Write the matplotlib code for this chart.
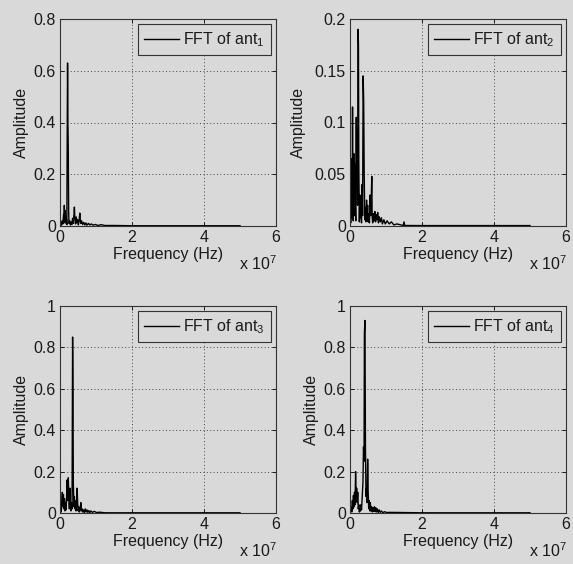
import numpy as np
import matplotlib
matplotlib.use("Agg")
import matplotlib.pyplot as plt
from matplotlib.ticker import FormatStrFormatter, MultipleLocator

# FFT amplitude spectra, (frequency in MHz, amplitude)
ant1 = [(0.0, 0.004), (0.2, 0.012), (0.4, 0.003), (0.6, 0.02), (0.8, 0.008),
        (1.0, 0.045), (1.1, 0.012), (1.2, 0.08), (1.3, 0.03), (1.4, 0.06),
        (1.5, 0.015), (1.6, 0.04), (1.7, 0.01), (1.8, 0.025), (1.9, 0.005),
        (2.0, 0.34), (2.1, 0.63), (2.2, 0.40), (2.3, 0.30), (2.4, 0.06),
        (2.5, 0.01), (2.7, 0.02), (2.9, 0.004), (3.1, 0.015), (3.3, 0.006),
        (3.5, 0.03), (3.7, 0.01), (3.9, 0.05), (4.0, 0.073), (4.1, 0.04),
        (4.3, 0.008), (4.5, 0.035), (4.7, 0.012), (4.9, 0.025), (5.1, 0.004),
        (5.3, 0.018), (5.5, 0.05), (5.6, 0.03), (5.8, 0.01), (6.0, 0.02),
        (6.3, 0.006), (6.6, 0.014), (6.9, 0.004), (7.2, 0.012), (7.5, 0.003),
        (7.9, 0.01), (8.3, 0.004), (8.7, 0.008), (9.2, 0.003), (9.8, 0.006),
        (10.5, 0.002), (11.4, 0.005), (12.5, 0.002), (15, 0.002), (20, 0.001),
        (30, 0.001), (40, 0.001), (50, 0.001)]

ant2 = [(0.0, 0.002), (0.1, 0.012), (0.2, 0.003), (0.3, 0.03), (0.4, 0.008),
        (0.5, 0.065), (0.6, 0.02), (0.7, 0.115), (0.8, 0.03), (0.9, 0.005),
        (1.05, 0.07), (1.15, 0.035), (1.25, 0.01), (1.4, 0.06), (1.5, 0.02),
        (1.6, 0.005), (1.75, 0.105), (1.85, 0.04), (2.0, 0.06), (2.1, 0.02),
        (2.25, 0.19), (2.35, 0.175), (2.45, 0.06), (2.6, 0.004), (2.75, 0.03),
        (2.9, 0.008), (3.05, 0.015), (3.2, 0.003), (3.35, 0.04), (3.5, 0.01),
        (3.65, 0.145), (3.8, 0.12), (3.95, 0.05), (4.1, 0.006), (4.25, 0.018),
        (4.4, 0.004), (4.6, 0.025), (4.75, 0.008), (4.9, 0.02), (5.05, 0.004),
        (5.2, 0.012), (5.4, 0.003), (5.6, 0.03), (5.8, 0.01), (6.05, 0.048),
        (6.15, 0.01), (6.3, 0.003), (6.5, 0.012), (6.7, 0.005), (6.9, 0.014),
        (7.1, 0.004), (7.3, 0.011), (7.5, 0.006), (7.7, 0.013), (7.9, 0.003),
        (8.1, 0.009), (8.4, 0.004), (8.7, 0.008), (9.0, 0.002), (9.4, 0.006),
        (9.8, 0.002), (10.3, 0.005), (10.9, 0.002), (11.5, 0.004), (12.2, 0.001),
        (13.0, 0.002), (14.8, 0.0005), (15.0, 0.004), (15.2, 0.0005),
        (20, 0.0004), (30, 0.0004), (40, 0.0004), (50, 0.0004)]

ant3 = [(0.0, 0.002), (0.2, 0.02), (0.35, 0.005), (0.5, 0.06), (0.65, 0.1),
        (0.8, 0.03), (0.95, 0.09), (1.1, 0.02), (1.25, 0.07), (1.4, 0.01),
        (1.55, 0.05), (1.7, 0.015), (1.85, 0.08), (2.0, 0.16), (2.15, 0.06),
        (2.3, 0.17), (2.45, 0.09), (2.6, 0.02), (2.75, 0.12), (2.9, 0.04),
        (3.05, 0.01), (3.2, 0.05), (3.35, 0.02), (3.5, 0.85), (3.6, 0.61),
        (3.7, 0.15), (3.85, 0.03), (4.0, 0.08), (4.15, 0.02), (4.3, 0.06),
        (4.45, 0.01), (4.6, 0.04), (4.75, 0.12), (4.9, 0.05), (5.05, 0.01),
        (5.2, 0.03), (5.4, 0.005), (5.6, 0.02), (5.8, 0.05), (5.95, 0.01),
        (6.15, 0.02), (6.35, 0.004), (6.55, 0.015), (6.8, 0.003), (7.0, 0.02),
        (7.25, 0.005), (7.5, 0.015), (7.75, 0.003), (8.0, 0.012), (8.3, 0.002),
        (8.6, 0.01), (9.0, 0.003), (9.5, 0.008), (10.2, 0.002), (11.0, 0.004),
        (12.5, 0.001), (20, 0.001), (30, 0.001), (40, 0.001), (50, 0.001)]

ant4 = [(0.0, 0.002), (0.2, 0.01), (0.35, 0.03), (0.5, 0.005), (0.65, 0.06),
        (0.8, 0.02), (0.95, 0.085), (1.1, 0.03), (1.25, 0.1), (1.4, 0.04),
        (1.55, 0.2), (1.7, 0.08), (1.85, 0.12), (2.0, 0.05), (2.15, 0.1),
        (2.3, 0.02), (2.45, 0.04), (2.6, 0.005), (2.75, 0.02), (2.9, 0.01),
        (3.05, 0.04), (3.2, 0.015), (3.4, 0.08), (3.6, 0.15), (3.75, 0.32),
        (3.9, 0.25), (4.0, 0.87), (4.15, 0.93), (4.3, 0.3), (4.45, 0.08),
        (4.6, 0.12), (4.75, 0.05), (4.9, 0.26), (5.05, 0.1), (5.2, 0.02),
        (5.35, 0.06), (5.5, 0.01), (5.65, 0.05), (5.8, 0.01), (6.0, 0.03),
        (6.2, 0.005), (6.4, 0.025), (6.6, 0.008), (6.8, 0.03), (7.0, 0.006),
        (7.2, 0.025), (7.4, 0.005), (7.6, 0.02), (7.85, 0.003), (8.1, 0.015),
        (8.4, 0.003), (8.7, 0.01), (9.1, 0.002), (9.6, 0.006), (10.3, 0.002),
        (11.0, 0.003), (20, 0.001), (30, 0.001), (40, 0.001), (50, 0.001)]

spectra = [ant1, ant2, ant3, ant4]
legend_labels = ['FFT of ant$_1$', 'FFT of ant$_2$', 'FFT of ant$_3$', 'FFT of ant$_4$']
y_limits = [0.8, 0.2, 1.0, 1.0]
y_steps = [0.2, 0.05, 0.2, 0.2]

BG = '#d9d9d9'
INK = '#1a1a1a'
FS = 11.5

plt.rcParams['font.family'] = ['Liberation Sans', 'DejaVu Sans']
plt.rcParams['mathtext.fontset'] = 'custom'
plt.rcParams['mathtext.rm'] = 'Liberation Sans'
plt.rcParams['mathtext.it'] = 'Liberation Sans'
plt.rcParams['font.size'] = FS

fig = plt.figure(figsize=(5.73, 5.64), dpi=100, facecolor=BG)
W, H = 573.0, 564.0

# axes boxes in pixels: left, top
boxes = [(60, 19), (350, 19), (60, 306), (350, 306)]
ylabel_offsets = [-31, -44, -31, -31]
aw, ah = 216.0, 207.0

for i, spec in enumerate(spectra):
    left, top = boxes[i]
    ax = fig.add_axes([left / W, 1 - (top + ah) / H, aw / W, ah / H], facecolor=BG)
    f, a = zip(*spec)
    f = np.array(f) * 1e6
    ax.plot(f, a, color='black', lw=1.0, label=legend_labels[i])

    ax.set_xlim(0, 6e7)
    ax.set_ylim(0, y_limits[i])
    ax.set_xticks([0, 2e7, 4e7, 6e7])
    ax.set_xticklabels(['0', '2', '4', '6'])
    ax.yaxis.set_major_locator(MultipleLocator(y_steps[i]))
    ax.yaxis.set_major_formatter(FormatStrFormatter('%g'))

    ax.grid(True, linestyle=(0, (1, 2.5)), color='#444444', lw=0.7)
    ax.tick_params(direction='in', length=3, width=0.7, top=True, right=True,
                   colors=INK, labelsize=FS, pad=3)
    for s in ax.spines.values():
        s.set_color('#333333')
        s.set_linewidth(0.8)

    ax.set_xlabel('Frequency (Hz)', color=INK)
    ax.set_ylabel('Amplitude', color=INK)
    ax.xaxis.set_label_coords(0.5, -0.1)
    ax.yaxis.set_label_coords(ylabel_offsets[i] / aw, 0.5)
    ax.text(0.83, -0.18, 'x 10$^7$', transform=ax.transAxes, color=INK,
            ha='left', va='center', fontsize=FS)

    leg = ax.legend(loc='upper right', fancybox=False, framealpha=1,
                    facecolor=BG, edgecolor='#333333', borderaxespad=0.3,
                    handlelength=2.2, handletextpad=0.25, borderpad=0.4,
                    fontsize=FS)
    leg.get_frame().set_linewidth(0.8)
    for t in leg.get_texts():
        t.set_color(INK)

fig.savefig('out.png', dpi=100, facecolor=BG)
